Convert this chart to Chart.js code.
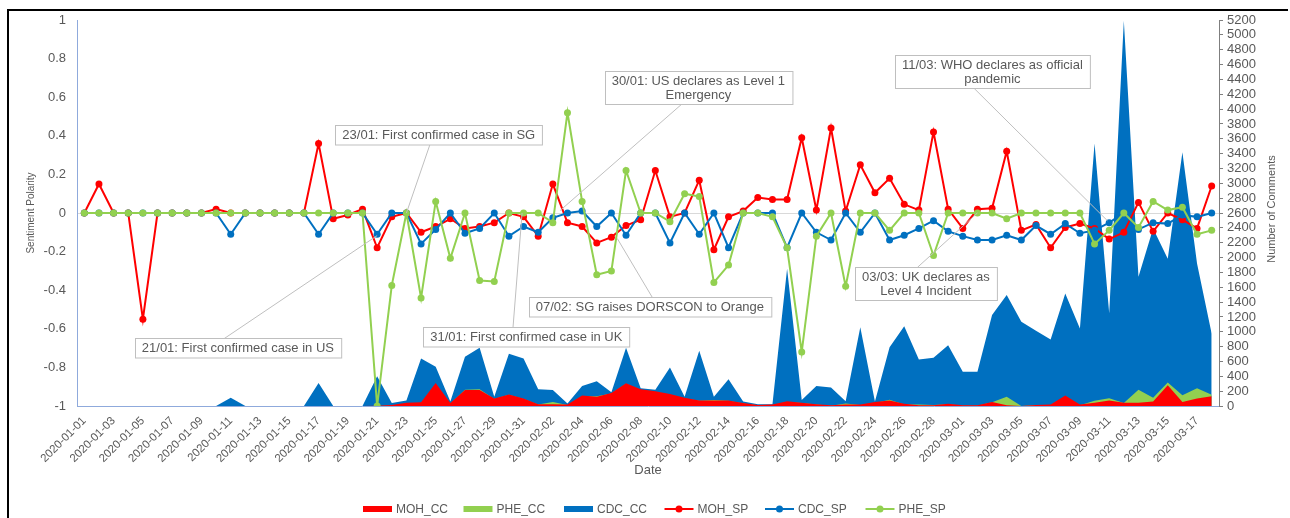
<!DOCTYPE html>
<html>
<head>
<meta charset="utf-8">
<script src="https://cdn.jsdelivr.net/npm/chart.js@4.4.1/dist/chart.umd.min.js"></script>
<style>
  html, body { margin: 0; padding: 0; background: #fff; }
  #wrap { width: 1290px; height: 518px; position: relative; }
</style>
</head>
<body>
<div id="wrap"><canvas id="chart" width="1290" height="518"></canvas></div>
<script>
// categories
const dates = [
  '2020-01-01','2020-01-02','2020-01-03','2020-01-04','2020-01-05','2020-01-06','2020-01-07','2020-01-08',
  '2020-01-09','2020-01-10','2020-01-11','2020-01-12','2020-01-13','2020-01-14','2020-01-15','2020-01-16',
  '2020-01-17','2020-01-18','2020-01-19','2020-01-20','2020-01-21','2020-01-22','2020-01-23','2020-01-24',
  '2020-01-25','2020-01-26','2020-01-27','2020-01-28','2020-01-29','2020-01-30','2020-01-31','2020-02-01',
  '2020-02-02','2020-02-03','2020-02-04','2020-02-05','2020-02-06','2020-02-07','2020-02-08','2020-02-09',
  '2020-02-10','2020-02-11','2020-02-12','2020-02-13','2020-02-14','2020-02-15','2020-02-16','2020-02-17',
  '2020-02-18','2020-02-19','2020-02-20','2020-02-21','2020-02-22','2020-02-23','2020-02-24','2020-02-25',
  '2020-02-26','2020-02-27','2020-02-28','2020-02-29','2020-03-01','2020-03-02','2020-03-03','2020-03-04',
  '2020-03-05','2020-03-06','2020-03-07','2020-03-08','2020-03-09','2020-03-10','2020-03-11','2020-03-12',
  '2020-03-13','2020-03-14','2020-03-15','2020-03-16','2020-03-17','2020-03-18'
];

// number of comments (right axis)
const mohCC = [0,0,0,0,0,0,0,0,0,0, 0,0,0,0,0,0,0,0,0,0,
  5,15,45,50,310,40,215,215,100,155, 100,25,25,20,140,125,175,305,225,200,
  160,110,75,75,75,40,15,20,65,45, 25,10,20,20,55,75,30,10,10,30,
  10,10,55,10,0,15,20,140,20,45, 75,45,45,60,280,55,100,130];
const pheCC = [0,0,0,0,0,0,0,0,0,0, 0,0,0,0,0,0,0,0,0,0,
  0,5,30,40,290,30,220,225,95,150, 95,20,55,15,130,130,170,300,215,190,
  150,100,70,80,70,35,10,15,55,40, 20,5,35,15,40,85,20,20,15,25,
  5,5,50,125,0,10,15,120,10,70, 105,40,220,110,315,145,240,150];
const cdcCC = [0,0,0,0,0,0,0,0,0,0, 110,0,0,0,0,0,310,0,0,0,
  400,40,75,640,530,60,665,785,125,705, 640,225,215,35,270,335,185,785,240,220,
  520,125,745,125,360,60,25,25,1850,80, 270,250,65,1060,60,790,1075,625,650,820,
  460,460,1225,1495,1135,1015,895,1515,1045,3535, 1250,5190,1740,2390,1985,3420,1920,975];

// sentiment polarity (left axis)
const mohSP = [0,0.15,0,0,-0.55,0,0,0,0,0.02, 0,0,0,0,0,0,0.36,-0.03,-0.01,0.02,
  -0.18,-0.02,0,-0.1,-0.07,-0.03,-0.08,-0.07,-0.05,0, -0.02,-0.12,0.15,-0.05,-0.07,-0.155,-0.125,-0.065,-0.035,0.22,
  -0.02,0,0.17,-0.19,-0.02,0.01,0.08,0.07,0.07,0.39, 0.015,0.44,0.01,0.25,0.105,0.18,0.045,0.015,0.42,0.02,
  -0.08,0.02,0.025,0.32,-0.09,-0.06,-0.18,-0.075,-0.055,-0.08, -0.135,-0.1,0.055,-0.095,0,-0.035,-0.08,0.14];
const cdcSP = [0,0,0,0,0,0,0,0,0,0, -0.11,0,0,0,0,0,-0.11,0,0,0,
  -0.11,0,0,-0.16,-0.085,0,-0.105,-0.08,0,-0.12, -0.07,-0.1,-0.025,0,0.01,-0.07,0,-0.115,0,0,
  -0.155,0,-0.11,0,-0.18,0,0,0,-0.18,0, -0.1,-0.14,0,-0.1,0,-0.14,-0.115,-0.08,-0.04,-0.095,
  -0.12,-0.14,-0.14,-0.115,-0.14,-0.065,-0.11,-0.055,-0.105,-0.09, -0.05,0,-0.085,-0.05,-0.055,-0.01,-0.02,0];
const pheSP = [0,0,0,0,0,0,0,0,0,0, 0,0,0,0,0,0,0,0,0,0,
  -1,-0.375,0,-0.44,0.06,-0.235,0,-0.35,-0.355,0, 0,0,-0.05,0.52,0.06,-0.32,-0.3,0.22,0,0,
  -0.045,0.1,0.085,-0.36,-0.27,0,0,-0.02,-0.18,-0.72, -0.12,0,-0.38,0,0,-0.09,0,0,-0.22,0,
  0,0,0,-0.03,0,0,0,0,0,-0.16, -0.09,0,-0.075,0.06,0.015,0.03,-0.11,-0.09];

// event notes: text lines, box centre and leader line (category index, polarity)
const notes = [
  { text: ['21/01: First confirmed case in US'], box: [10.49, -0.70], from: [9.49, -0.654], to: [20, -0.117] },
  { text: ['23/01: First confirmed case in SG'], box: [24.21, 0.407], from: [23.63, 0.36], to: [22, 0] },
  { text: ['30/01: US declares as Level 1', 'Emergency'], box: [41.94, 0.65], from: [40.85, 0.567], to: [32.5, 0.013] },
  { text: ['31/01: First confirmed case in UK'], box: [30.19, -0.642], from: [29.28, -0.593], to: [29.9, 0] },
  { text: ['07/02: SG raises DORSCON to Orange'], box: [38.63, -0.487], from: [38.8, -0.438], to: [36.4, -0.132] },
  { text: ['03/03: UK declares as', 'Level 4 Incident'], box: [57.48, -0.363], from: [56.9, -0.282], to: [61, 0] },
  { text: ['11/03: WHO declares as official', 'pandemic'], box: [62.02, 0.733], from: [60.72, 0.65], to: [69.88, -0.04] }
];

const RED = '#ff0000', GREEN = '#92d050', BLUE = '#0070c0';
const GRAY = '#595959';
const FONT = '"Liberation Sans", Arial, sans-serif';

function area(label, data, color, order) {
  return { type: 'line', label: label, data: data, yAxisID: 'y1', order: order,
    backgroundColor: color, borderColor: color, borderWidth: 0, fill: 'origin',
    pointRadius: 0, tension: 0 };
}
function polarity(label, data, color, order) {
  return { type: 'line', label: label, data: data, yAxisID: 'y', order: order,
    borderColor: color, backgroundColor: color, borderWidth: 2, fill: false,
    pointRadius: 3.5, pointBorderWidth: 0, pointBackgroundColor: color, tension: 0 };
}

const extras = {
  id: 'extras',
  afterDatasetsDraw(chart) {
    const ctx = chart.ctx, xs = chart.scales.x, ys = chart.scales.y;
    ctx.save();
    ctx.font = '13px ' + FONT;
    notes.forEach(n => {
      ctx.strokeStyle = '#bfbfbf';
      ctx.lineWidth = 1;
      ctx.beginPath();
      ctx.moveTo(xs.getPixelForValue(n.from[0]), ys.getPixelForValue(n.from[1]));
      ctx.lineTo(xs.getPixelForValue(n.to[0]), ys.getPixelForValue(n.to[1]));
      ctx.stroke();
    });
    notes.forEach(n => {
      const cx = xs.getPixelForValue(n.box[0]), cy = ys.getPixelForValue(n.box[1]);
      const w = Math.max(...n.text.map(t => ctx.measureText(t).width)) + 14;
      const lh = 13.5, h = n.text.length * lh + 6;
      const x0 = Math.round(cx - w / 2) + 0.5, y0 = Math.round(cy - h / 2) + 0.5;
      ctx.fillStyle = '#fff';
      ctx.fillRect(x0, y0, w, h);
      ctx.strokeStyle = '#bfbfbf';
      ctx.strokeRect(x0, y0, w, h);
      ctx.fillStyle = GRAY;
      ctx.textAlign = 'center';
      ctx.textBaseline = 'middle';
      n.text.forEach((t, k) => ctx.fillText(t, cx, y0 + 3 + lh * (k + 0.5) + 0.5));
    });
    ctx.restore();
  },
  afterDraw(chart) {
    const ctx = chart.ctx, area = chart.chartArea;
    ctx.save();
    // axis titles
    ctx.fillStyle = GRAY;
    ctx.textAlign = 'center';
    ctx.textBaseline = 'middle';
    ctx.translate(31, (area.top + area.bottom) / 2);
    ctx.rotate(-Math.PI / 2);
    ctx.font = '10px ' + FONT;
    ctx.fillText('Sentiment Polarity', 0, 0);
    ctx.setTransform(1, 0, 0, 1, 0, 0);
    ctx.translate(1272, (area.top + area.bottom) / 2 - 4);
    ctx.rotate(-Math.PI / 2);
    ctx.font = '11px ' + FONT;
    ctx.fillText('Number of Comments', 0, 0);
    ctx.setTransform(1, 0, 0, 1, 0, 0);

    // legend
    const ds = chart.data.datasets;
    const step = 100.5;
    let x = chart.width / 2 - 282;
    const y = 509;
    ctx.font = '12px ' + FONT;
    ctx.textAlign = 'left';
    ds.forEach(d => {
      const c = d.borderColor;
      if (d.fill) {
        ctx.fillStyle = c;
        ctx.fillRect(x, y - 3, 29, 6);
      } else {
        ctx.strokeStyle = c;
        ctx.lineWidth = 2;
        ctx.beginPath();
        ctx.moveTo(x, y);
        ctx.lineTo(x + 29, y);
        ctx.stroke();
        ctx.fillStyle = c;
        ctx.beginPath();
        ctx.arc(x + 14.5, y, 3.5, 0, Math.PI * 2);
        ctx.fill();
      }
      ctx.fillStyle = GRAY;
      ctx.fillText(d.label, x + 33, y + 0.5);
      x += step;
    });

    // page frame
    ctx.strokeStyle = '#000';
    ctx.lineWidth = 2;
    ctx.beginPath();
    ctx.moveTo(8, 518);
    ctx.lineTo(8, 10);
    ctx.lineTo(1288, 10);
    ctx.stroke();
    ctx.restore();
  }
};

new Chart(document.getElementById('chart').getContext('2d'), {
  data: {
    labels: dates,
    datasets: [
      area('MOH_CC', mohCC, RED, 3),
      area('PHE_CC', pheCC, GREEN, 4),
      area('CDC_CC', cdcCC, BLUE, 5),
      polarity('MOH_SP', mohSP, RED, 2),
      polarity('CDC_SP', cdcSP, BLUE, 1),
      polarity('PHE_SP', pheSP, GREEN, 0)
    ]
  },
  options: {
    responsive: false,
    animation: false,
    devicePixelRatio: 1,
    layout: { padding: { top: 20, bottom: 36, left: 0, right: 0 } },
    plugins: { legend: { display: false }, tooltip: { enabled: false } },
    scales: {
      x: {
        type: 'category',
        offset: true,
        grid: { display: false },
        border: { display: true, color: '#8faadc' },
        ticks: {
          autoSkip: false, minRotation: 45, maxRotation: 45, padding: 0,
          color: GRAY, font: { size: 11.5, family: FONT },
          callback: (v, i) => (i % 2 === 0 ? dates[i] : '')
        },
        title: { display: true, text: 'Date', color: GRAY, font: { size: 13, family: FONT }, padding: { top: 0, bottom: 4 } },
        afterFit: s => { s.height = 76; }
      },
      y: {
        position: 'left',
        min: -1, max: 1,
        ticks: { stepSize: 0.2, padding: 11, color: GRAY, font: { size: 13, family: FONT },
          callback: v => String(Math.round(v * 10) / 10) },
        grid: { drawTicks: false, color: c => (Math.abs(c.tick.value) < 1e-9 ? '#d9d9d9' : 'rgba(0,0,0,0)') },
        border: { display: true, color: '#8faadc' },
        afterFit: s => { s.width = 77; }
      },
      y1: {
        position: 'right',
        min: 0, max: 5200,
        ticks: { stepSize: 200, autoSkip: false, padding: 4, color: GRAY, font: { size: 13, family: FONT },
          callback: v => String(v) },
        grid: { drawOnChartArea: false, drawTicks: true, tickLength: 4, color: '#7f7f7f' },
        border: { display: true, color: '#7f7f7f' },
        afterFit: s => { s.width = 71; }
      }
    }
  },
  plugins: [extras]
});
</script>
</body>
</html>
